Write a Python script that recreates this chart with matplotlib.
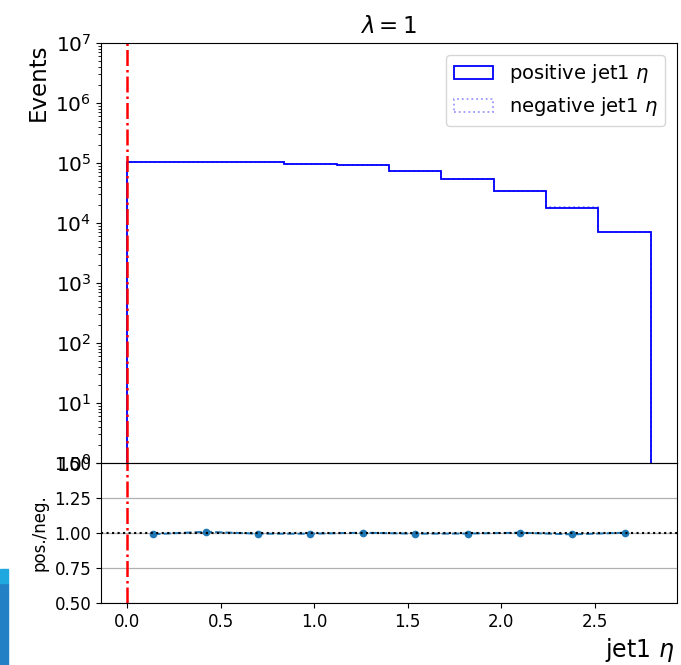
import numpy as np
import matplotlib
matplotlib.use("Agg")
import matplotlib.pyplot as plt
from matplotlib.patches import Rectangle

# jet1 eta, 10 bins from 0 to 2.8
bin_edges = [0.0, 0.28, 0.56, 0.84, 1.12, 1.40, 1.68, 1.96, 2.24, 2.52, 2.80]
pos_counts = [1.04e5, 1.04e5, 1.03e5, 9.73e4, 9.15e4, 7.36e4, 5.41e4, 3.45e4, 1.80e4, 7.0e3]
ratio = [0.991, 1.009, 0.995, 0.995, 1.002, 0.995, 0.996, 1.002, 0.990, 1.002]

edges = np.array(bin_edges)
centers = 0.5 * (edges[:-1] + edges[1:])
neg_counts = np.array(pos_counts) / np.array(ratio)

fig = plt.figure(figsize=(6.81, 6.65), dpi=100)
ax = fig.add_axes([0.1483, 0.3038, 0.8458, 0.6315])
ax2 = fig.add_axes([0.1483, 0.0932, 0.8458, 0.2106], sharex=ax)

ax.hist(centers, bins=edges, weights=pos_counts, histtype='step',
        color='blue', linewidth=1.3, label=r'positive jet1 $\eta$')
ax.hist(centers, bins=edges, weights=neg_counts, histtype='step',
        color='blue', alpha=0.4, linestyle=':', linewidth=1.3,
        label=r'negative jet1 $\eta$')
ax.set_yscale('log')
ax.set_ylim(1, 1e7)
ax.axvline(0, color='red', linestyle='-.', linewidth=1.8)
ax.set_ylabel('Events', fontsize=16.5, loc='top')
ax.set_title(r'$\lambda = 1$', fontsize=16.5, pad=7)
ax.tick_params(axis='y', labelsize=14.5)
ax.tick_params(axis='x', labelbottom=False, length=0)
ax.legend(loc='upper right', fontsize=14, borderaxespad=0.6)

ax2.plot(centers, ratio, marker='o', markersize=4.5, linestyle='--',
         color='C0', linewidth=1.4)
ax2.axhline(1.0, color='black', linestyle=':', linewidth=1.5)
ax2.axvline(0, color='red', linestyle='-.', linewidth=1.8)
ax2.set_ylim(0.5, 1.5)
ax2.set_yticks([0.50, 0.75, 1.00, 1.25, 1.50])
ax2.grid(axis='y', color='#b0b0b0', linewidth=0.9)
ax2.set_ylabel('pos./neg.', fontsize=12)
ax2.tick_params(labelsize=12)
ax2.set_xlim(-0.14, 2.94)
ax2.set_xticks([0.0, 0.5, 1.0, 1.5, 2.0, 2.5])
fig.text(0.991, 0.022, r'jet1 $\eta$', fontsize=17, ha='right', va='center')

# screenshot edge artifact at lower left
fig.patches.append(Rectangle((0, 0), 0.012, 0.124, transform=fig.transFigure,
                             color='#2380c4', figure=fig, zorder=0))
fig.patches.append(Rectangle((0, 0.124), 0.012, 0.021, transform=fig.transFigure,
                             color='#1fa8e0', figure=fig, zorder=0))

fig.savefig('out.png', dpi=100)
